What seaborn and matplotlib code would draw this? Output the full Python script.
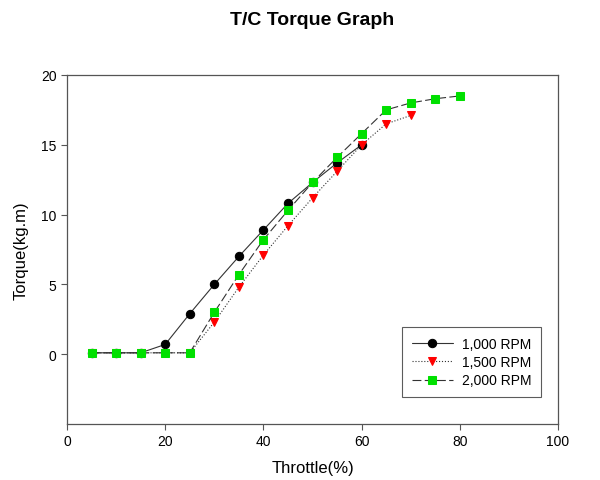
import matplotlib
matplotlib.use("Agg")
import matplotlib.pyplot as plt
import pandas as pd
import seaborn as sns

throttle = [5, 10, 15, 20, 25, 30, 35, 40, 45, 50, 55, 60, 65, 70, 75, 80]
torque_1000 = [0.1, 0.1, 0.1, 0.7, 2.9, 5.0, 7.0, 8.9, 10.8, 12.3, 13.7, 15.0]
torque_1500 = [0.1, 0.1, 0.1, 0.1, 0.1, 2.3, 4.8, 7.1, 9.2, 11.2, 13.1, 15.0, 16.5, 17.1]
torque_2000 = [0.1, 0.1, 0.1, 0.1, 0.1, 3.0, 5.7, 8.2, 10.3, 12.3, 14.1, 15.8, 17.5, 18.0, 18.3, 18.5]
series_names = ["1,000 RPM", "1,500 RPM", "2,000 RPM"]

sns.set_style("ticks")
plt.rcParams["font.family"] = ["Liberation Sans", "DejaVu Sans"]
plt.rcParams["text.color"] = "black"
plt.rcParams["axes.labelcolor"] = "black"

fig = plt.figure(figsize=(6, 4.81), dpi=100)
ax = fig.add_axes([0.1117, 0.1164, 0.8183, 0.7256])

styles = [
    dict(marker="o", linestyle="-", markerfacecolor="black", markeredgecolor="black", markersize=6),
    dict(marker="v", linestyle=":", markerfacecolor="#ff0000", markeredgecolor="#ff0000", markersize=6),
    dict(marker="s", linestyle=(0, (8, 3)), markerfacecolor="#00e000", markeredgecolor="#00e000", markersize=5.8),
]

for name, values, st in zip(series_names, [torque_1000, torque_1500, torque_2000], styles):
    df = pd.DataFrame({"throttle": throttle[:len(values)], "torque": values})
    sns.lineplot(data=df, x="throttle", y="torque", ax=ax, color="#333333",
                 linewidth=0.8, label=name, **st)

ax.set_xlim(0, 100)
ax.set_ylim(-5, 20)
ax.set_xticks([0, 20, 40, 60, 80, 100])
ax.set_yticks([0, 5, 10, 15, 20])
ax.tick_params(direction="out", length=4, width=0.8, labelsize=10,
               color="#555555", labelcolor="black")
for sp in ax.spines.values():
    sp.set_color("#555555")
    sp.set_linewidth(0.9)

ax.set_xlabel("Throttle(%)", fontsize=12, labelpad=8)
ax.set_ylabel("Torque(kg.m)", fontsize=12, labelpad=9)
fig.suptitle("T/C Torque Graph", fontsize=14, fontweight="bold", x=0.52, y=0.975)

leg = ax.legend(loc="lower right", bbox_to_anchor=(0.965, 0.077), fontsize=10,
                frameon=True, fancybox=False, edgecolor="#333333",
                borderaxespad=0, handlelength=3.0, handletextpad=0.6,
                borderpad=0.7, labelspacing=0.3)
leg.get_frame().set_linewidth(0.8)

fig.savefig("out.png", dpi=100)
